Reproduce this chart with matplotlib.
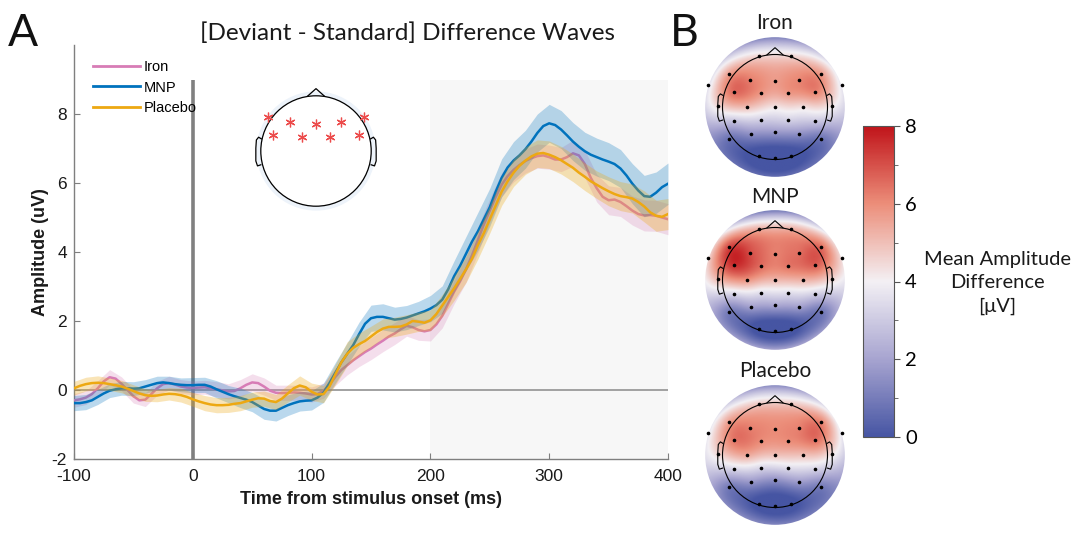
import numpy as np
import matplotlib
matplotlib.use("Agg")
import matplotlib.pyplot as plt
from matplotlib.colors import LinearSegmentedColormap
from matplotlib.patches import Circle, Polygon
from matplotlib.lines import Line2D

plt.rcParams["axes.unicode_minus"] = False

# -------------------------------
# Data: difference waves (uV), 5 ms steps
# -------------------------------
time = np.arange(-100, 401, 5)

iron = [-0.30, -0.27, -0.22, -0.12, 0.05, 0.25, 0.37, 0.33, 0.18, 0.00,
        -0.18, -0.30, -0.28, -0.12, 0.05, 0.17, 0.20, 0.16, 0.10, 0.07,
        0.06, 0.07, 0.08, 0.05, 0.02, -0.01, -0.04, -0.03, 0.05, 0.15,
        0.22, 0.20, 0.10, -0.02, -0.08, -0.09, -0.08, -0.07, -0.08, -0.10,
        -0.13, -0.12, -0.02, 0.15, 0.38, 0.58, 0.72, 0.86, 0.98, 1.10,
        1.20, 1.32, 1.43, 1.55, 1.64, 1.76, 1.86, 1.82, 1.74, 1.70,
        1.74, 1.90, 2.15, 2.50, 2.85, 3.15, 3.50, 3.90, 4.35, 4.80,
        5.20, 5.60, 5.95, 6.20, 6.38, 6.52, 6.64, 6.72, 6.78, 6.80,
        6.75, 6.68, 6.68, 6.75, 6.86, 6.80, 6.55, 6.15, 5.85, 5.60,
        5.50, 5.52, 5.45, 5.33, 5.20, 5.10, 5.06, 5.07, 5.05, 5.00,
        4.95]

mnp = [-0.38, -0.38, -0.35, -0.30, -0.20, -0.10, -0.02, 0.02, 0.05, 0.05,
       0.04, 0.05, 0.10, 0.15, 0.20, 0.22, 0.20, 0.17, 0.15, 0.14,
       0.14, 0.15, 0.15, 0.10, 0.02, -0.05, -0.12, -0.18, -0.23, -0.28,
       -0.35, -0.45, -0.55, -0.60, -0.60, -0.52, -0.44, -0.38, -0.33, -0.31,
       -0.30, -0.22, -0.08, 0.20, 0.50, 0.80, 1.05, 1.30, 1.62, 1.92,
       2.08, 2.12, 2.12, 2.08, 2.04, 2.06, 2.10, 2.16, 2.22, 2.28,
       2.36, 2.46, 2.62, 2.92, 3.30, 3.60, 3.95, 4.30, 4.60, 4.95,
       5.30, 5.75, 6.15, 6.45, 6.65, 6.80, 6.98, 7.20, 7.45, 7.65,
       7.73, 7.68, 7.55, 7.38, 7.20, 7.05, 6.92, 6.82, 6.75, 6.68,
       6.62, 6.55, 6.42, 6.22, 5.98, 5.78, 5.62, 5.60, 5.72, 5.88,
       5.98]

placebo = [0.05, 0.12, 0.17, 0.20, 0.21, 0.20, 0.17, 0.14, 0.10, 0.04,
           -0.03, -0.10, -0.15, -0.17, -0.16, -0.13, -0.11, -0.12, -0.15, -0.20,
           -0.27, -0.33, -0.38, -0.42, -0.44, -0.44, -0.43, -0.40, -0.38, -0.33,
           -0.28, -0.24, -0.25, -0.32, -0.35, -0.25, -0.10, 0.05, 0.13, 0.08,
           -0.05, -0.13, -0.12, 0.10, 0.45, 0.80, 1.05, 1.22, 1.33, 1.42,
           1.55, 1.68, 1.78, 1.83, 1.83, 1.84, 1.90, 2.00, 1.98, 1.95,
           2.02, 2.20, 2.45, 2.70, 2.95, 3.22, 3.50, 3.80, 4.20, 4.55,
           4.95, 5.35, 5.75, 6.05, 6.30, 6.50, 6.65, 6.77, 6.85, 6.87,
           6.82, 6.75, 6.66, 6.55, 6.44, 6.30, 6.18, 6.05, 5.95, 5.85,
           5.76, 5.68, 5.62, 5.59, 5.55, 5.45, 5.32, 5.15, 5.05, 5.02,
           5.10]

# standard error bands, 10 ms steps
time_sem = np.arange(-100, 401, 10)
iron_sem = [0.20, 0.20, 0.22, 0.22, 0.20, 0.20, 0.20, 0.20, 0.20, 0.20,
            0.20, 0.20, 0.22, 0.22, 0.25, 0.25, 0.25, 0.22, 0.22, 0.22,
            0.22, 0.22, 0.25, 0.28, 0.30, 0.32, 0.32, 0.32, 0.30, 0.30,
            0.32, 0.35, 0.35, 0.38, 0.38, 0.35, 0.35, 0.35, 0.35, 0.35,
            0.35, 0.35, 0.38, 0.40, 0.40, 0.42, 0.42, 0.42, 0.45, 0.45,
            0.45]
mnp_sem = [0.22, 0.22, 0.22, 0.20, 0.20, 0.20, 0.20, 0.20, 0.20, 0.20,
           0.22, 0.22, 0.25, 0.25, 0.28, 0.28, 0.30, 0.30, 0.30, 0.28,
           0.28, 0.28, 0.30, 0.32, 0.35, 0.38, 0.38, 0.36, 0.35, 0.35,
           0.38, 0.40, 0.45, 0.50, 0.55, 0.55, 0.55, 0.55, 0.55, 0.55,
           0.55, 0.55, 0.55, 0.55, 0.55, 0.55, 0.55, 0.58, 0.60, 0.60,
           0.60]
placebo_sem = [0.20, 0.20, 0.20, 0.18, 0.18, 0.18, 0.18, 0.18, 0.18, 0.20,
               0.20, 0.22, 0.22, 0.22, 0.22, 0.22, 0.22, 0.22, 0.25, 0.28,
               0.25, 0.25, 0.30, 0.35, 0.32, 0.30, 0.28, 0.28, 0.28, 0.28,
               0.30, 0.32, 0.35, 0.38, 0.40, 0.40, 0.40, 0.40, 0.40, 0.40,
               0.40, 0.40, 0.40, 0.40, 0.40, 0.42, 0.42, 0.42, 0.45, 0.45,
               0.45]

groups = ["Iron", "MNP", "Placebo"]
colors = ["#D77CB6", "#0072BD", "#EDA812"]

# -------------------------------
# Data: electrode layout and mean amplitude (200-400 ms)
# -------------------------------
chan_names = ["Fp1", "Fp2", "F7", "F3", "Fz", "F4", "F8", "FT9", "FT10",
              "FC5", "FC1", "FC2", "FC6", "T7", "C3", "Cz", "C4", "T8",
              "CP5", "CP1", "CP2", "CP6", "P7", "P3", "Pz", "P4", "P8",
              "O1", "Oz", "O2"]
chan_x = [-0.31, 0.31, -0.875, -0.47, 0.0, 0.46, 0.875, -1.28, 1.28,
          -0.78, -0.26, 0.25, 0.77, -1.08, -0.54, 0.0, 0.54, 1.08,
          -0.78, -0.26, 0.25, 0.77, -0.875, -0.46, 0.0, 0.46, 0.875,
          -0.31, 0.0, 0.31]
chan_y = [0.98, 0.98, 0.62, 0.52, 0.49, 0.52, 0.62, 0.425, 0.425,
          0.29, 0.26, 0.26, 0.29, 0.02, 0.0, 0.0, 0.0, 0.02,
          -0.27, -0.24, -0.24, -0.27, -0.61, -0.51, -0.48, -0.51, -0.61,
          -0.94, -0.98, -0.94]

topo_iron = [4.4, 4.4, 5.7, 6.2, 5.7, 6.1, 5.7, 3.5, 3.5,
             6.6, 5.8, 5.8, 6.2, 4.6, 5.1, 4.3, 4.4, 4.2,
             2.9, 3.2, 3.3, 3.0, 0.8, 1.6, 1.8, 1.6, 0.8,
             -0.4, -0.6, -0.4]
topo_mnp = [5.2, 5.2, 7.2, 7.0, 6.2, 6.5, 6.5, 4.5, 4.2,
            7.6, 6.5, 6.4, 6.8, 5.3, 5.9, 5.2, 5.3, 4.6,
            3.4, 3.6, 3.6, 3.2, 1.0, 2.0, 2.2, 2.0, 0.9,
            -0.3, -0.5, -0.3]
topo_placebo = [4.7, 4.7, 5.7, 6.2, 6.0, 6.2, 6.1, 3.7, 3.5,
                6.4, 6.0, 6.0, 6.5, 4.6, 5.5, 5.0, 5.0, 4.3,
                3.4, 3.4, 3.6, 3.3, 1.0, 1.8, 1.6, 1.9, 1.0,
                -0.2, -0.4, -0.2]

roi = ["F7", "F3", "Fz", "F4", "F8", "FC5", "FC1", "FC2", "FC6"]

W, H = 1076, 545
SANS = ["Liberation Sans", "DejaVu Sans"]
MYR = ["Lato", "DejaVu Sans"]


def box(x0, y0, x1, y1):
    return [x0 / W, 1 - y1 / H, (x1 - x0) / W, (y1 - y0) / H]


def draw_head(ax, lw=0.8):
    ax.add_patch(Circle((0, 0), 1.0, fc="none", ec="black", lw=lw, zorder=5))
    ax.add_patch(Polygon([[-0.16, 0.987], [0, 1.13], [0.16, 0.987]], closed=False,
                         fc="none", ec="black", lw=lw, zorder=5))
    ear_x = np.array([0.99, 1.04, 1.08, 1.09, 1.09, 1.06, 1.0])
    ear_y = np.array([0.22, 0.25, 0.2, 0.05, -0.18, -0.27, -0.25])
    ax.plot(ear_x, ear_y, color="black", lw=lw, zorder=5)
    ax.plot(-ear_x, ear_y, color="black", lw=lw, zorder=5)


def v4_interp(px, py, vals, gx, gy):
    # biharmonic spline (MATLAB griddata 'v4', as used by topoplot)
    xy = np.column_stack([px, py])
    d = np.hypot(xy[:, 0][:, None] - xy[:, 0][None, :], xy[:, 1][:, None] - xy[:, 1][None, :])
    ds = np.maximum(d, 1e-12)
    G = np.where(d > 0, ds ** 2 * (np.log(ds) - 1), 0.0)
    w = np.linalg.solve(G, np.asarray(vals, float))
    r = np.hypot(gx.ravel()[:, None] - xy[:, 0][None, :], gy.ravel()[:, None] - xy[:, 1][None, :])
    rs = np.maximum(r, 1e-12)
    g = np.where(r > 0, rs ** 2 * (np.log(rs) - 1), 0.0)
    return (g @ w).reshape(gx.shape)


fig = plt.figure(figsize=(W / 100, H / 100), dpi=100)

# -------------------------------
# A. Difference waves
# -------------------------------
ax = fig.add_axes(box(74, 45, 668, 459))
ax.set_xlim(-100, 400)
ax.set_ylim(-2, 10)
ax.axvspan(200, 400, ymin=0, ymax=(9 + 2) / 12, color="#f7f7f7", lw=0, zorder=0)
ax.axhline(0, color="#9a9a9a", lw=1.3, zorder=1)
ax.plot([0, 0], [-2, 9], color="#808080", lw=2.6, zorder=1, solid_capstyle="butt")

series = [iron, mnp, placebo]
sems = [iron_sem, mnp_sem, placebo_sem]
alphas = [0.25, 0.27, 0.3]
for k in range(3):
    m_sem = np.interp(time_sem, time, series[k])
    s = np.asarray(sems[k])
    ax.fill_between(time_sem, m_sem - s, m_sem + s, color=colors[k], alpha=alphas[k],
                    lw=0, zorder=2 + 2 * k)
    ax.plot(time, series[k], color=colors[k], lw=1.8, zorder=3 + 2 * k)

for side in ["top", "right"]:
    ax.spines[side].set_visible(False)
for side in ["left", "bottom"]:
    ax.spines[side].set_color("#7f7f7f")
    ax.spines[side].set_linewidth(1.0)
ax.set_xticks([-100, 0, 100, 200, 300, 400])
ax.set_yticks([-2, 0, 2, 4, 6, 8])
ax.tick_params(direction="in", length=4, color="#7f7f7f", labelsize=12.5,
               labelcolor="#1a1a1a")
ax.tick_params(axis="x", pad=7)
ax.tick_params(axis="y", pad=5)
for lab in ax.get_xticklabels() + ax.get_yticklabels():
    lab.set_family(SANS)
ax.set_xlabel("Time from stimulus onset (ms)", fontsize=13, fontweight="bold",
              family=SANS, color="#1a1a1a", labelpad=5)
ax.set_ylabel("Amplitude (uV)", fontsize=13, fontweight="bold", family=SANS,
              color="#1a1a1a", labelpad=2)

handles = [Line2D([], [], color=c, lw=2) for c in colors]
leg = ax.legend(handles, groups, loc="upper left", bbox_to_anchor=(0.022, 0.978),
                frameon=False, handlelength=3.2, handletextpad=0.3,
                labelspacing=0.45, borderaxespad=0, prop={"family": SANS, "size": 10.5})

# electrode inset
hx = fig.add_axes(box(247, 82, 385, 220))
hx.set_xlim(-1.25, 1.25)
hx.set_ylim(-1.25, 1.25)
hx.set_aspect("equal")
hx.axis("off")
hx.add_patch(Circle((0, 0), 1.08, fc="#edf3fa", ec="none", zorder=1))
hx.add_patch(Circle((0, 0), 1.0, fc="white", ec="none", zorder=2))
draw_head(hx, lw=0.9)
roi_x = [chan_x[chan_names.index(c)] for c in roi]
roi_y = [chan_y[chan_names.index(c)] for c in roi]
hx.plot(roi_x, roi_y, ls="none", marker=(6, 2, 0), ms=7, color="#ec4b4b", mew=0.9, zorder=6)
hx.plot(roi_x, roi_y, ls="none", marker="o", ms=1.5, color="#ec4b4b", zorder=6)

# -------------------------------
# B. Topographies
# -------------------------------
cmap = LinearSegmentedColormap.from_list(
    "bwr_topo", ["#4655a3", "#a7a4d0", "#f3f0f4", "#ec8e7a", "#c0141a"])
gx, gy = np.meshgrid(np.linspace(-1.36, 1.36, 220), np.linspace(-1.36, 1.36, 220))
topo_vals = [topo_iron, topo_mnp, topo_placebo]
centers = [107, 280, 455]
title_y = [23, 197, 371]
R = 52.5
for k in range(3):
    cy = centers[k]
    tax = fig.add_axes(box(775 - 1.45 * R, cy - 1.45 * R, 775 + 1.45 * R, cy + 1.45 * R))
    tax.set_xlim(-1.45, 1.45)
    tax.set_ylim(-1.45, 1.45)
    tax.set_aspect("equal")
    tax.axis("off")
    z = v4_interp(chan_x, chan_y, topo_vals[k], gx, gy)
    im = tax.imshow(z, extent=(-1.36, 1.36, -1.36, 1.36), origin="lower", cmap=cmap,
                    vmin=0, vmax=8, interpolation="bilinear", zorder=1)
    disk = Circle((0, 0), 1.33, transform=tax.transData)
    im.set_clip_path(disk)
    draw_head(tax, lw=0.8)
    tax.plot(chan_x, chan_y, ls="none", marker="o", ms=1.6, color="black", zorder=6)
    fig.text(775 / W, 1 - title_y[k] / H, groups[k], ha="center", va="center",
             fontsize=15, family=MYR, color="#1a1a1a")

cax = fig.add_axes(box(863, 126, 894, 437))
cb = fig.colorbar(im, cax=cax, ticks=[0, 2, 4, 6, 8])
cb.ax.set_yticks([1, 3, 5, 7], minor=True)
cb.ax.tick_params(which="major", length=4, width=0.8, color="#555555", labelsize=14.5, pad=4)
cb.ax.tick_params(which="minor", length=3, width=0.6, color="#555555")
for lab in cb.ax.get_yticklabels():
    lab.set_family(MYR)
cb.outline.set_edgecolor("#555555")
cb.outline.set_linewidth(0.8)
fig.text(997 / W, 1 - 283 / H, "Mean Amplitude\nDifference\n[\u03bcV]", ha="center",
         va="center", fontsize=14.5, family=MYR, linespacing=1.45, color="#1a1a1a")

# titles and panel letters
fig.text(408 / W, 1 - 33 / H, "[Deviant - Standard] Difference Waves", ha="center",
         va="center", fontsize=17.5, family=MYR, color="#1a1a1a")
fig.text(8 / W, 1 - 33 / H, "A", ha="left", va="center", fontsize=32, family=MYR,
         color="#111111")
fig.text(670 / W, 1 - 33 / H, "B", ha="left", va="center", fontsize=32, family=MYR,
         color="#111111")

fig.savefig("out.png", dpi=100, facecolor="white")
